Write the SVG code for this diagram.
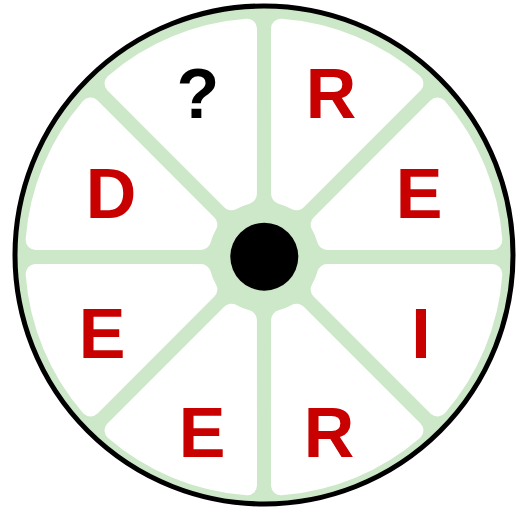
<svg xmlns="http://www.w3.org/2000/svg" xmlns:xlink="http://www.w3.org/1999/xlink" width="518" height="511" viewBox="0 0 518 511">
  <style>
    .sec { fill: #ffffff; stroke: #ffffff; stroke-width: 20; stroke-linejoin: round; }
    .lt { font-family: "Liberation Sans", Arial, sans-serif; font-weight: bold; font-size: 70px; text-anchor: middle; fill: #c80000; }
    .q { fill: #000000; }
  </style>
  <defs>
    <path id="sector" d="M64.77,-8.32 L217.49,-71.68 A229,229 0 0 1 217.49,71.68 L64.77,8.32 A65.3,65.3 0 0 0 64.77,-8.32 Z"/>
  </defs>
  <rect width="518" height="511" fill="#ffffff"/>
  <g id="wheel">
    <circle cx="264" cy="255" r="248" fill="#cde8c8"/>
    <circle cx="264" cy="255" r="249" fill="none" stroke="#000000" stroke-width="5"/>
  </g>
  <g id="sectors">
    <use xlink:href="#sector" class="sec" transform="translate(264 257) rotate(-112.5)"/>
    <use xlink:href="#sector" class="sec" transform="translate(264 257) rotate(-67.5)"/>
    <use xlink:href="#sector" class="sec" transform="translate(264 257) rotate(-22.5)"/>
    <use xlink:href="#sector" class="sec" transform="translate(264 257) rotate(22.5)"/>
    <use xlink:href="#sector" class="sec" transform="translate(264 257) rotate(67.5)"/>
    <use xlink:href="#sector" class="sec" transform="translate(264 257) rotate(112.5)"/>
    <use xlink:href="#sector" class="sec" transform="translate(264 257) rotate(157.5)"/>
    <use xlink:href="#sector" class="sec" transform="translate(264 257) rotate(-157.5)"/>
  </g>
  <g id="hub">
    <circle cx="264.3" cy="256.7" r="34" fill="#000000"/>
  </g>
  <g id="labels">
    <g id="s-q"><text class="lt q" x="198" y="118">?</text></g>
    <g id="s-r1"><text class="lt" x="331" y="118">R</text></g>
    <g id="s-e1"><text class="lt" x="419" y="218">E</text></g>
    <g id="s-i"><text class="lt" x="421" y="358">I</text></g>
    <g id="s-r2"><text class="lt" x="329" y="457">R</text></g>
    <g id="s-e2"><text class="lt" x="202" y="457">E</text></g>
    <g id="s-e3"><text class="lt" x="102" y="358">E</text></g>
    <g id="s-d"><text class="lt" x="111" y="218">D</text></g>
  </g>
</svg>
